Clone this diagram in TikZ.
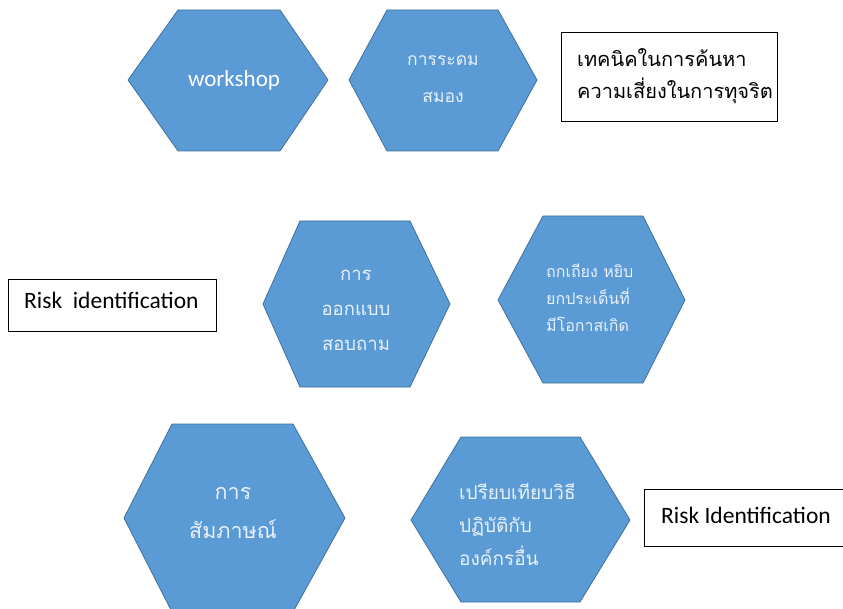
\documentclass[tikz,border=0pt]{standalone}
\usepackage{fontspec}
\setmainfont{Carlito}
\newfontfamily\thaifont[Script=Thai]{Loma}
\definecolor{hexfill}{HTML}{5B9BD5}
\definecolor{hexline}{HTML}{41719C}
\definecolor{hextext}{HTML}{E8F0F9}
\begin{document}
\begin{tikzpicture}[x=1pt,y=-1pt,
  hexa/.style={fill=hexfill,draw=hexline,line width=0.8pt,line join=miter},
  boxa/.style={draw=black,line width=0.8pt,fill=white},
  hextxt/.style={text=hextext,inner sep=0pt,align=center},
  thaibox/.style={text=black,inner sep=0pt,align=left}]
\useasboundingbox[fill=white] (0,0) rectangle (843,609);
% hexagon 1
\draw[hexa] (128,80) -- (178,10) -- (280,10) -- (328,80) -- (280,151) -- (178,151) -- cycle;
\node[hextxt,text=white,font=\fontsize{23}{26}\selectfont] (h1) at (234,80) {workshop};
% hexagon 2
\draw[hexa] (349,80) -- (387,10) -- (498,10) -- (537,80) -- (498,151) -- (387,151) -- cycle;
\node[hextxt,font=\thaifont\fontsize{17.5}{37}\selectfont] (h2) at (443,79) {การระดม\\สมอง};
% box top right
\node[boxa,minimum width=216pt,minimum height=89pt,inner sep=0pt] (b1) at (669,76.5) {};
\node[thaibox,font=\thaifont\fontsize{20}{32}\selectfont,anchor=west] (t1) at (577,76) {เทคนิคในการค้นหา\\ความเสี่ยงในการทุจริต};
% box left
\node[boxa,minimum width=208pt,minimum height=52pt,inner sep=0pt] (b2) at (112,305) {};
\node[inner sep=0pt,font=\fontsize{23.5}{26}\selectfont,anchor=west] (t2) at (24,300) {Risk\ \ identification};
% hexagon 3
\draw[hexa] (263,304) -- (300,221) -- (410,221) -- (450,304) -- (410,387) -- (300,387) -- cycle;
\node[hextxt,font=\thaifont\fontsize{18.5}{35}\selectfont] (h3) at (356,310) {การ\\ออกแบบ\\สอบถาม};
% hexagon 4
\draw[hexa] (498,300) -- (543,216) -- (643,216) -- (685,300) -- (643,383) -- (543,383) -- cycle;
\node[hextxt,align=left,anchor=west,font=\thaifont\fontsize{16}{27}\selectfont] (h4) at (546,298) {ถกเถียง หยิบ\\ยกประเด็นที่\\มีโอกาสเกิด};
% hexagon 5
\draw[hexa] (124,518) -- (172,424) -- (293,424) -- (345,518) -- (293,612) -- (172,612) -- cycle;
\node[hextxt,font=\thaifont\fontsize{21.5}{39}\selectfont] (h5) at (233,513) {การ\\สัมภาษณ์};
% hexagon 6
\draw[hexa] (411,520) -- (461,437) -- (580,437) -- (630,520) -- (580,602) -- (461,602) -- cycle;
\node[hextxt,align=left,anchor=west,font=\thaifont\fontsize{19}{33}\selectfont] (h6) at (459,524) {เปรียบเทียบวิธี\\ปฏิบัติกับ\\องค์กรอื่น};
% box bottom right
\draw[boxa] (845,489) -- (644,489) -- (644,546) -- (845,546);
\node[inner sep=0pt,font=\fontsize{23.5}{26}\selectfont,anchor=west] (t3) at (661,515) {Risk Identification};
\end{tikzpicture}
\end{document}
